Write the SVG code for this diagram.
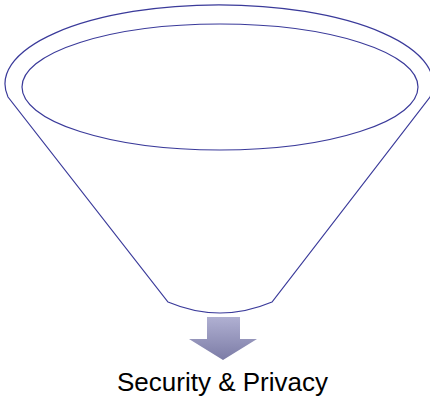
<svg xmlns="http://www.w3.org/2000/svg" width="430" height="397" viewBox="0 0 430 397">
  <style>
    .edge { fill: none; stroke: #3a3a9a; stroke-width: 1.2; }
    .label { font-family: "Liberation Sans", Arial, sans-serif; font-size: 26px; fill: #000; }
  </style>
  <defs>
    <linearGradient id="arrowFill" x1="0" y1="0" x2="0" y2="1">
      <stop offset="0" stop-color="#b0b0d2"/>
      <stop offset="1" stop-color="#7c7ca6"/>
    </linearGradient>
  </defs>
  <rect width="430" height="397" fill="#fff"/>
  <g id="funnel">
    <!-- outer rim and cone walls -->
    <path class="edge" d="M 8 97 A 214 79 0 1 1 430 97 L 272 302 Q 220 324 168 302 Z"/>
    <!-- inner rim -->
    <ellipse class="edge" cx="220" cy="87" rx="198" ry="63"/>
  </g>
  <g id="connectors">
    <path d="M 207 317 L 240 317 L 240 339 L 257 339 L 223 360 L 189 339 L 207 339 Z" fill="url(#arrowFill)"/>
  </g>
  <g id="output">
    <text class="label" x="222.5" y="391" text-anchor="middle">Security &amp; Privacy</text>
  </g>
</svg>
